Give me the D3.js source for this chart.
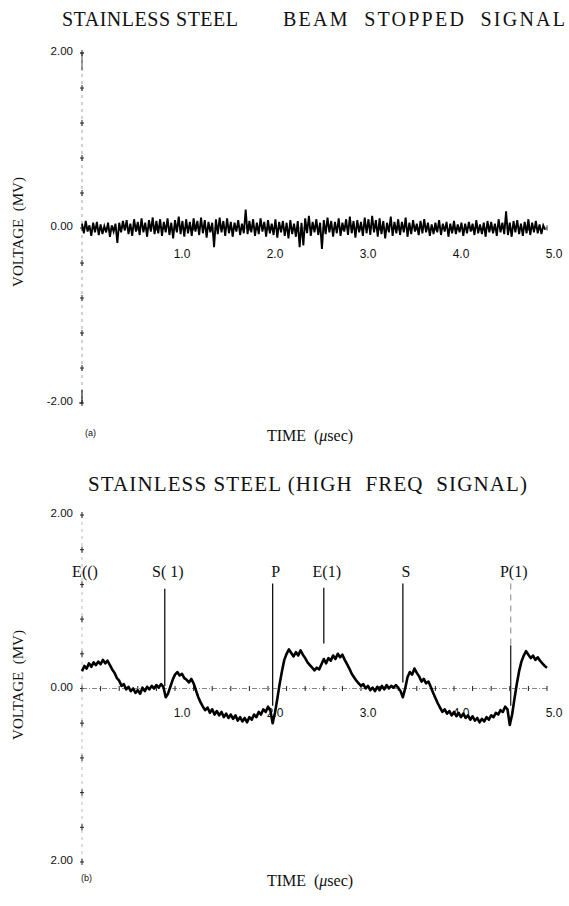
<!doctype html>
<html>
<head>
<meta charset="utf-8"/>
<title>Stainless steel signals</title>
<script src="https://d3js.org/d3.v7.min.js"></script>
<style>
  body { margin: 0; background: #fff; }
  text { fill: #111; }
  .serif { font-family: "Liberation Serif", "DejaVu Serif", serif; }
  .num { font-family: "Liberation Sans", Arial, sans-serif; font-size: 11.5px; }
</style>
</head>
<body>
<div id="chart"></div>
<script>
// ---- data ----
// panel (a): beam stopped noise, one sample every 0.02 usec
var stepA = 0.02;
var noiseA = [
  0.05,-0.06,0.08,-0.04,0.03,-0.09,0.06,-0.05,0.07,-0.08,
  0.04,-0.07,0.02,-0.05,0.06,-0.10,0.03,-0.04,0.05,-0.17,
  0.06,-0.05,0.08,-0.03,0.09,-0.07,0.05,-0.09,0.10,-0.04,
  0.07,-0.08,0.11,-0.05,0.06,-0.10,0.09,-0.04,0.12,-0.07,
  0.08,-0.06,0.10,-0.09,0.07,-0.05,0.11,-0.08,0.06,-0.12,
  0.09,-0.05,0.13,-0.07,0.08,-0.10,0.10,-0.06,0.07,-0.09,
  0.11,-0.04,0.08,-0.08,0.12,-0.06,0.09,-0.11,0.07,-0.05,
  0.06,-0.22,0.10,-0.07,0.12,-0.05,0.08,-0.09,0.11,-0.06,
  0.07,-0.10,0.06,-0.04,0.09,-0.08,0.05,-0.06,0.21,-0.07,
  0.08,-0.05,0.10,-0.09,0.06,-0.07,0.11,-0.04,0.07,-0.10,
  0.09,-0.06,0.05,-0.08,0.10,-0.11,0.07,-0.05,0.08,-0.09,
  0.06,-0.12,0.09,-0.07,0.05,-0.10,0.08,-0.22,0.06,-0.20,
  0.11,-0.06,0.14,-0.09,0.07,-0.05,0.10,-0.08,0.06,-0.24,
  0.09,-0.07,0.12,-0.05,0.08,-0.10,0.07,-0.06,0.11,-0.09,
  0.06,-0.04,0.10,-0.08,0.13,-0.06,0.08,-0.11,0.09,-0.05,
  0.07,-0.09,0.12,-0.06,0.10,-0.08,0.14,-0.05,0.09,-0.10,
  0.11,-0.07,0.08,-0.12,0.06,-0.05,0.13,-0.09,0.07,-0.06,
  0.10,-0.08,0.07,-0.05,0.12,-0.10,0.06,-0.07,0.09,-0.04,
  0.05,-0.08,0.08,-0.06,0.10,-0.05,0.06,-0.09,0.04,-0.07,
  0.06,-0.05,0.09,-0.08,0.05,-0.04,0.07,-0.10,0.05,-0.06,
  0.08,-0.07,0.04,-0.05,0.06,-0.09,0.05,-0.06,0.07,-0.04,
  0.05,-0.08,0.09,-0.06,0.04,-0.07,0.06,-0.10,0.08,-0.05,
  0.07,-0.06,0.05,-0.09,0.10,-0.05,0.06,-0.07,0.19,-0.08,
  0.06,-0.10,0.08,-0.05,0.09,-0.07,0.05,-0.09,0.07,-0.06,
  0.10,-0.08,0.06,-0.05,0.08,-0.06,0.04,-0.07,0.03,-0.02
];

// panel (b): high freq signal, one sample every 0.025 usec
var stepB = 0.025;
var signalB = [
  0.20,0.26,0.23,0.29,0.25,0.30,0.27,0.31,0.28,0.33,
  0.29,0.32,0.27,0.22,0.18,0.12,0.09,0.03,0.05,-0.01,
  0.02,-0.03,0.00,-0.05,-0.02,-0.06,0.01,-0.03,0.02,-0.01,
  0.03,0.00,0.04,0.01,0.05,0.02,-0.10,-0.06,0.02,0.10,
  0.16,0.19,0.15,0.17,0.12,0.10,0.07,0.11,0.06,-0.02,
  -0.10,-0.16,-0.21,-0.25,-0.22,-0.28,-0.24,-0.30,-0.26,-0.31,
  -0.27,-0.33,-0.29,-0.34,-0.30,-0.35,-0.31,-0.37,-0.33,-0.38,
  -0.34,-0.39,-0.33,-0.36,-0.30,-0.33,-0.27,-0.30,-0.24,-0.27,
  -0.21,-0.25,-0.40,-0.28,-0.12,0.05,0.20,0.33,0.40,0.45,
  0.41,0.37,0.42,0.38,0.44,0.39,0.35,0.30,0.27,0.24,
  0.21,0.24,0.22,0.28,0.34,0.29,0.35,0.32,0.38,0.34,
  0.40,0.36,0.39,0.33,0.28,0.23,0.17,0.13,0.09,0.06,
  0.03,0.05,0.00,0.03,-0.02,0.01,-0.03,0.02,-0.02,0.03,
  -0.01,0.04,0.00,0.03,0.01,0.04,0.01,-0.03,-0.10,0.00,
  0.13,0.19,0.16,0.23,0.18,0.14,0.08,0.11,0.06,0.08,
  0.02,-0.05,-0.11,-0.17,-0.22,-0.27,-0.24,-0.29,-0.26,-0.31,
  -0.27,-0.32,-0.28,-0.33,-0.29,-0.34,-0.31,-0.36,-0.32,-0.37,
  -0.34,-0.39,-0.35,-0.38,-0.33,-0.36,-0.31,-0.33,-0.28,-0.30,
  -0.25,-0.27,-0.21,-0.24,-0.42,-0.30,-0.12,0.05,0.20,0.31,
  0.38,0.43,0.39,0.35,0.38,0.33,0.36,0.32,0.29,0.26,
  0.24
];

// arrival markers on panel (b)
var markerLabels = ["E(()", "S( 1)", "P", "E(1)", "S", "P(1)"];
var markerTimes  = [0.0, 0.89, 2.05, 2.60, 3.45, 4.61];
var markerTops   = [null, 1.15, 1.21, 1.16, 1.21, 1.21];
var markerEnds   = [null, 0.03, -0.20, 0.52, 0.07, -0.20];

var timeTicks = [1, 2, 3, 4, 5];
var timeTickLabels = ["1.0", "2.0", "3.0", "4.0", "5.0"];
var voltTicksA = [2, 0, -2];
var voltTickLabelsA = ["2.00", "0.00", "-2.00"];
var voltTickLabelsB = ["2.00", "0.00", "2.00"];

// ---- drawing ----
var W = 569, H = 906;
var svg = d3.select("#chart").append("svg")
  .attr("width", W).attr("height", H);

var x = d3.scaleLinear().domain([0, 5]).range([82, 547]);
var yA = d3.scaleLinear().domain([-2, 2]).range([403, 53]);
var yB = d3.scaleLinear().domain([-2, 2]).range([862, 515]);

var minorY = d3.range(-2, 2.001, 0.4);
var minorX = d3.range(0.2, 5.001, 0.2);

function yAxisFrame(y, solidEnds) {
  var g = svg.append("g");
  g.append("line")
    .attr("x1", x(0)).attr("x2", x(0))
    .attr("y1", y(2)).attr("y2", y(-2))
    .attr("stroke", solidEnds ? "#888" : "#aaa").attr("stroke-width", 0.8)
    .attr("stroke-dasharray", "3,4");
  minorY.forEach(function (v) {
    var yy = y(v);
    g.append("line").attr("x1", x(0) - 2).attr("x2", x(0) + 2)
      .attr("y1", yy).attr("y2", yy).attr("stroke", "#222").attr("stroke-width", 1);
    g.append("line").attr("x1", x(0)).attr("x2", x(0))
      .attr("y1", yy - 3).attr("y2", yy + 3).attr("stroke", "#222").attr("stroke-width", 1);
  });
  if (solidEnds) {
    g.append("line").attr("x1", x(0)).attr("x2", x(0))
      .attr("y1", y(2)).attr("y2", y(1.8)).attr("stroke", "#444").attr("stroke-width", 1);
    g.append("line").attr("x1", x(0) - 2).attr("x2", x(0) + 2)
      .attr("y1", y(2)).attr("y2", y(2)).attr("stroke", "#333").attr("stroke-width", 1);
    g.append("line").attr("x1", x(0)).attr("x2", x(0))
      .attr("y1", y(-1.85)).attr("y2", y(-2)).attr("stroke", "#222").attr("stroke-width", 1.2);
    g.append("line").attr("x1", x(0) - 3).attr("x2", x(0) + 1)
      .attr("y1", y(-2)).attr("y2", y(-2)).attr("stroke", "#222").attr("stroke-width", 1);
  }
  return g;
}

function zeroLine(y) {
  var g = svg.append("g");
  g.append("line")
    .attr("x1", x(0)).attr("x2", x(5))
    .attr("y1", y(0)).attr("y2", y(0))
    .attr("stroke", "#666").attr("stroke-width", 0.8)
    .attr("stroke-dasharray", "5,2,1,2");
  minorX.forEach(function (t) {
    g.append("line").attr("x1", x(t)).attr("x2", x(t))
      .attr("y1", y(0) - 2.5).attr("y2", y(0) + 2.5)
      .attr("stroke", "#222").attr("stroke-width", 1);
  });
}

function yTickLabels(y, vals, labels) {
  vals.forEach(function (v, i) {
    svg.append("text").attr("class", "num")
      .attr("x", x(0) - 9).attr("y", y(v) + 2)
      .attr("text-anchor", "end")
      .text(labels[i]);
  });
}

function xTickLabels(yPos) {
  timeTicks.forEach(function (t, i) {
    svg.append("text").attr("class", "num")
      .attr("x", x(t) + 7).attr("y", yPos)
      .attr("text-anchor", "middle")
      .style("font-size", "12px")
      .text(timeTickLabels[i]);
  });
}

function voltLabel(cy) {
  svg.append("text").attr("class", "serif")
    .attr("transform", "translate(23," + cy + ") rotate(-90)")
    .attr("text-anchor", "middle")
    .style("font-size", "15px")
    .style("white-space", "pre")
    .text("VOLTAGE  (MV)");
}

function timeLabel(yPos) {
  var t = svg.append("text").attr("class", "serif")
    .attr("x", 310).attr("y", yPos)
    .attr("text-anchor", "middle")
    .style("font-size", "16px")
    .style("white-space", "pre");
  t.append("tspan").text("TIME  (");
  t.append("tspan").style("font-style", "italic").text("\u03bc");
  t.append("tspan").text("sec)");
}

var line = function (y, step) {
  return d3.line()
    .x(function (d, i) { return x(i * step); })
    .y(function (d) { return y(d); });
};

// ===== panel (a) =====
svg.append("text").attr("class", "serif")
  .attr("x", 62).attr("y", 26)
  .style("font-size", "20px")
  .attr("textLength", 176).attr("lengthAdjust", "spacing")
  .text("STAINLESS STEEL");
svg.append("text").attr("class", "serif")
  .attr("x", 283).attr("y", 26)
  .style("font-size", "20px").style("white-space", "pre")
  .attr("textLength", 282).attr("lengthAdjust", "spacing")
  .text("BEAM  STOPPED  SIGNAL");

yAxisFrame(yA, true);
zeroLine(yA);
yTickLabels(yA, voltTicksA, voltTickLabelsA);
xTickLabels(yA(0) + 30);
voltLabel(232);
timeLabel(441);
svg.append("text").attr("class", "num")
  .attr("x", 85).attr("y", 436).style("font-size", "9px").text("(a)");

svg.append("path")
  .datum(noiseA)
  .attr("fill", "none")
  .attr("stroke", "#000")
  .attr("stroke-width", 1.9)
  .attr("d", line(yA, stepA));

// ===== panel (b) =====
svg.append("text").attr("class", "serif")
  .attr("x", 88).attr("y", 491)
  .style("font-size", "21px").style("white-space", "pre")
  .attr("textLength", 439).attr("lengthAdjust", "spacing")
  .text("STAINLESS STEEL (HIGH  FREQ  SIGNAL)");

yAxisFrame(yB, false);
zeroLine(yB);
yTickLabels(yB, voltTicksA, voltTickLabelsB);
xTickLabels(yB(0) + 28);
voltLabel(685);
timeLabel(886);
svg.append("text").attr("class", "num")
  .attr("x", 81).attr("y", 881).style("font-size", "9px").text("(b)");

// markers
markerLabels.forEach(function (lab, i) {
  var t = markerTimes[i];
  svg.append("text").attr("class", "serif")
    .attr("x", x(t) + 3).attr("y", yB(1.28))
    .attr("text-anchor", "middle")
    .style("font-size", "16px").style("white-space", "pre")
    .text(lab);
  if (markerTops[i] === null) return;
  if (lab === "P(1)") {
    svg.append("line").attr("x1", x(t)).attr("x2", x(t))
      .attr("y1", yB(markerTops[i])).attr("y2", yB(0.5))
      .attr("stroke", "#999").attr("stroke-width", 1.2)
      .attr("stroke-dasharray", "6,5");
    svg.append("line").attr("x1", x(t)).attr("x2", x(t))
      .attr("y1", yB(0.5)).attr("y2", yB(markerEnds[i]))
      .attr("stroke", "#111").attr("stroke-width", 1.2);
  } else {
    svg.append("line").attr("x1", x(t)).attr("x2", x(t))
      .attr("y1", yB(markerTops[i])).attr("y2", yB(markerEnds[i]))
      .attr("stroke", "#111").attr("stroke-width", 1.3);
  }
});

svg.append("path")
  .datum(signalB)
  .attr("fill", "none")
  .attr("stroke", "#000")
  .attr("stroke-width", 2.6)
  .attr("stroke-linejoin", "round")
  .attr("d", line(yB, stepB));
</script>
</body>
</html>
